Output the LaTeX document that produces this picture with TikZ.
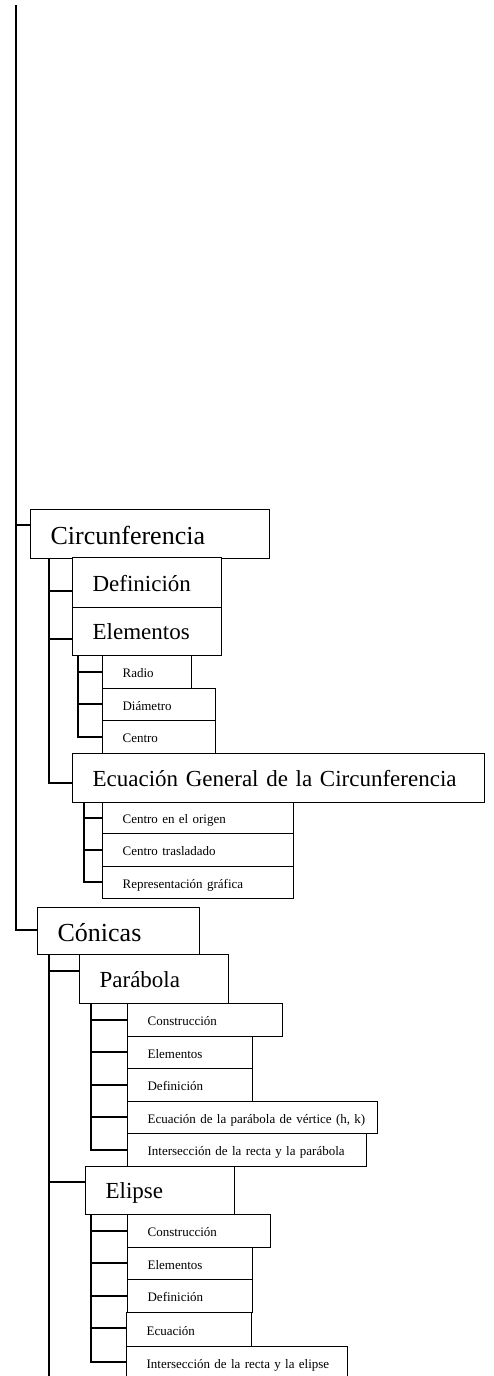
\documentclass[tikz,border=0pt]{standalone}
\usepackage{fontspec}
\setmainfont{Liberation Serif}
\tikzset{
  bx/.style={draw, line width=1.2pt, fill=white, anchor=north west,
    inner xsep=0pt, inner ysep=0pt, align=left, text depth=0pt,
    execute at begin node=\hspace*{20pt}},
  huge/.style={font=\fontsize{26}{30}\selectfont, text height=21pt},
  big/.style={font=\fontsize{23}{27}\selectfont, text height=17pt},
  small/.style={font=\fontsize{13}{15}\selectfont, text height=11pt},
  ln/.style={line width=1.2pt}
}
\begin{document}
\begin{tikzpicture}[x=1pt,y=-1pt]
\useasboundingbox[fill=white] (0,0) rectangle (493,1376);
% level 1
\node[bx, huge, text width=239pt, minimum height=49pt] (circ) at (30,509) {Circunferencia};
\node[bx, huge, text width=162pt, minimum height=47pt] (con) at (37,907) {Cónicas};
% circunferencia children
\node[bx, big, text width=149pt, minimum height=50pt, text height=18pt] (def) at (72,557) {Definición};
\node[bx, big, text width=149pt, minimum height=48pt, text height=16pt] (ele) at (72,607) {Elementos};
\node[bx, big, text width=412pt, minimum height=49pt] (ecg) at (72,753) {Ecuación General de la Circunferencia};
% elementos children
\node[bx, small, text width=89pt, minimum height=33pt] (radio) at (102,655) {Radio};
\node[bx, small, text width=113pt, minimum height=32pt] (diam) at (102,688) {Diámetro};
\node[bx, small, text width=113pt, minimum height=33pt] (centro) at (102,720) {Centro};
% ecuacion general children
\node[bx, small, text width=191pt, minimum height=31pt, text height=10pt] (ceo) at (102,802) {Centro en el origen};
\node[bx, small, text width=191pt, minimum height=33pt] (ctr) at (102,833) {Centro trasladado};
\node[bx, small, text width=191pt, minimum height=32pt] (rep) at (102,866) {Representación gráfica};
% conicas children
\node[bx, big, text width=149pt, minimum height=49pt] (par) at (79,954) {Parábola};
\node[bx, big, text width=149pt, minimum height=48pt, text height=16pt] (eli) at (85,1166) {Elipse};
% parabola children
\node[bx, small, text width=155pt, minimum height=33pt] (p1) at (127,1003) {Construcción};
\node[bx, small, text width=125pt, minimum height=32pt] (p2) at (127,1036) {Elementos};
\node[bx, small, text width=125pt, minimum height=33pt] (p3) at (127,1068) {Definición};
\node[bx, small, text width=250pt, minimum height=32pt] (p4) at (127,1101) {Ecuación de la parábola de vértice (h, k)};
\node[bx, small, text width=239pt, minimum height=33pt] (p5) at (127,1133) {Intersección de la recta y la parábola};
% elipse children
\node[bx, small, text width=143pt, minimum height=33pt] (e1) at (127,1214) {Construcción};
\node[bx, small, text width=125pt, minimum height=32pt] (e2) at (127,1247) {Elementos};
\node[bx, small, text width=125pt, minimum height=33pt] (e3) at (127,1279) {Definición};
\node[bx, small, text width=125pt, minimum height=34pt] (e4) at (126,1312) {Ecuación};
\node[bx, small, text width=221pt, minimum height=33pt] (e5) at (126,1346) {Intersección de la recta y la elipse};
% connectors
\coordinate (top) at (16,5);
\coordinate (conend) at (49,1376);
\draw[ln] (top) |- ([yshift=-16pt]circ.north west);
\draw[ln] (top) |- ([yshift=-23pt]con.north west);
% circunferencia
\draw[ln] ([xshift=19pt]circ.south west) |- ([yshift=-34pt]def.north west);
\draw[ln] ([xshift=19pt]circ.south west) |- ([yshift=-32pt]ele.north west);
\draw[ln] ([xshift=19pt]circ.south west) |- ([yshift=-30pt]ecg.north west);
% elementos
\draw[ln] ([xshift=6pt]ele.south west) |- ([yshift=-17pt]radio.north west);
\draw[ln] ([xshift=6pt]ele.south west) |- ([yshift=-16pt]diam.north west);
\draw[ln] ([xshift=6pt]ele.south west) |- ([yshift=-17pt]centro.north west);
% ecuacion general
\draw[ln] ([xshift=12pt]ecg.south west) |- ([yshift=-16pt]ceo.north west);
\draw[ln] ([xshift=12pt]ecg.south west) |- ([yshift=-17pt]ctr.north west);
\draw[ln] ([xshift=12pt]ecg.south west) |- ([yshift=-16pt]rep.north west);
% conicas
\draw[ln] ([xshift=12pt]con.south west) -- (conend);
\draw[ln] ([xshift=12pt]con.south west) |- ([yshift=-17pt]par.north west);
\draw[ln] ([xshift=12pt]con.south west) |- ([yshift=-16pt]eli.north west);
% parabola
\draw[ln] ([xshift=12pt]par.south west) |- ([yshift=-17pt]p1.north west);
\draw[ln] ([xshift=12pt]par.south west) |- ([yshift=-16pt]p2.north west);
\draw[ln] ([xshift=12pt]par.south west) |- ([yshift=-17pt]p3.north west);
\draw[ln] ([xshift=12pt]par.south west) |- ([yshift=-16pt]p4.north west);
\draw[ln] ([xshift=12pt]par.south west) |- ([yshift=-17pt]p5.north west);
% elipse
\draw[ln] ([xshift=6pt]eli.south west) |- ([yshift=-17pt]e1.north west);
\draw[ln] ([xshift=6pt]eli.south west) |- ([yshift=-16pt]e2.north west);
\draw[ln] ([xshift=6pt]eli.south west) |- ([yshift=-17pt]e3.north west);
\draw[ln] ([xshift=6pt]eli.south west) |- ([yshift=-16pt]e4.north west);
\draw[ln] ([xshift=6pt]eli.south west) |- ([yshift=-16pt]e5.north west);
\end{tikzpicture}
\end{document}
